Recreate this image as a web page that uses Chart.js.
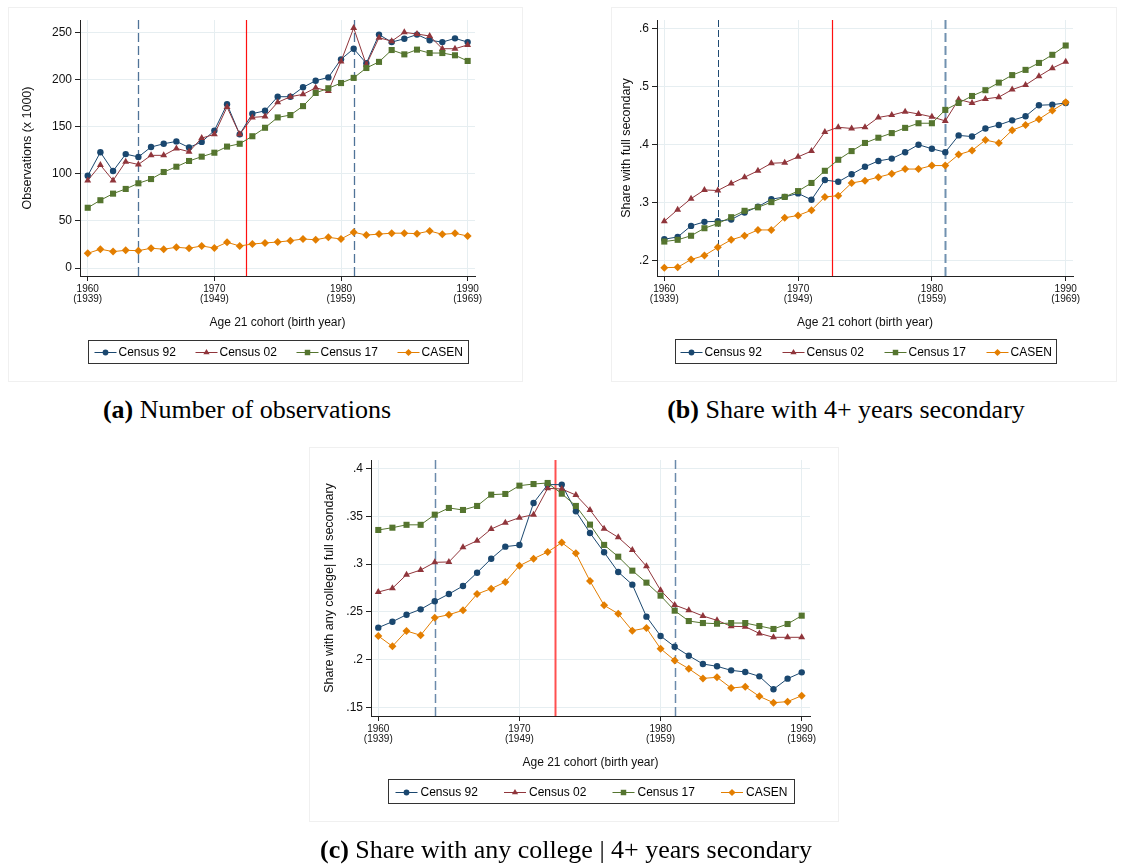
<!DOCTYPE html>
<html>
<head>
<meta charset="utf-8">
<script src="https://cdn.jsdelivr.net/npm/chart.js@4.4.1/dist/chart.umd.min.js"></script>
<style>
  body { margin: 0; background: #fff; width: 1122px; height: 865px; position: relative; overflow: hidden; }
  .panel { position: absolute; }
  .panel canvas { outline: 1px solid #f0f0f0; outline-offset: -1px; }
  .cap { position: absolute; font-family: 'Liberation Serif', 'Times New Roman', serif; font-size: 26px;
         line-height: 26px; white-space: nowrap; transform: translateX(-50%); color: #000; }
</style>
</head>
<body>
<div class="panel" style="left:8px;top:7px"><canvas id="chartA" width="515" height="375"></canvas></div>
<div class="panel" style="left:611px;top:7px"><canvas id="chartB" width="506" height="375"></canvas></div>
<div class="panel" style="left:309px;top:447px"><canvas id="chartC" width="530" height="375"></canvas></div>
<div class="cap" style="left:247px;top:397px"><b>(a)</b> Number of observations</div>
<div class="cap" style="left:846px;top:397px"><b>(b)</b> Share with 4+ years secondary</div>
<div class="cap" style="left:566px;top:837px"><b>(c)</b> Share with any college | 4+ years secondary</div>

<script>
// cohorts (year turning 21)
const cohortYears = [1960, 1961, 1962, 1963, 1964, 1965, 1966, 1967, 1968, 1969,
  1970, 1971, 1972, 1973, 1974, 1975, 1976, 1977, 1978, 1979,
  1980, 1981, 1982, 1983, 1984, 1985, 1986, 1987, 1988, 1989, 1990];
const tickYears = [1960, 1970, 1980, 1990];
const tickBirthYears = [1939, 1949, 1959, 1969];
const seriesNames = ['Census 92', 'Census 02', 'Census 17', 'CASEN'];
const dashedYears = [1964, 1981];
const reformYear = 1972.5;

// (a) observations, thousands
const obsCensus92 = [98, 123, 103, 121, 118, 128.5, 132, 134.5, 128, 134, 146, 174, 142, 164, 167, 182,
  182, 192, 199, 202.5, 221.7, 233, 217.5, 248, 240, 243.6, 248, 242, 240, 244, 240];
const obsCensus02 = [93, 109.4, 93, 113, 110, 119.7, 119.7, 127, 123.6, 138, 142, 171, 142, 160, 161, 176,
  182, 184.5, 191.5, 188, 219.5, 255, 216, 244.7, 241, 250.4, 248.6, 246.5, 233, 233, 237];
const obsCensus17 = [64, 72, 79, 84, 90, 94.5, 102, 107.6, 113.7, 118.3, 122.5, 129, 132, 140, 149, 160,
  162.5, 172, 186, 191, 196.5, 202, 212.5, 219, 231.6, 227, 232, 228.4, 228.4, 226, 220];
const obsCasen = [15.6, 20, 17.4, 18.8, 18.4, 21, 20, 22, 21, 23.4, 21.2, 27.3, 23.4, 25.5, 26.6, 27.6,
  29, 30.8, 30, 32.6, 30.8, 38, 35, 36, 37, 37, 36.5, 39.3, 35.8, 36.8, 34];
const obsTicks = [0, 50, 100, 150, 200, 250];
const obsTickLabels = ['0', '50', '100', '150', '200', '250'];

// (b) share with full secondary
const secCensus92 = [.237, .241, .260, .267, .268, .271, .283, .293, .306, .310, .316, .305, .339, .336, .349, .362,
  .372, .376, .387, .400, .393, .387, .416, .414, .428, .434, .442, .449, .468, .469, .472];
const secCensus02 = [.268, .288, .307, .322, .321, .333, .344, .355, .368, .369, .379, .389, .422, .430, .428, .430,
  .447, .451, .457, .453, .448, .441, .478, .472, .479, .482, .495, .503, .518, .532, .543];
const secCensus17 = [.233, .236, .243, .256, .264, .275, .286, .292, .301, .310, .320, .334, .355, .374, .389, .403,
  .412, .420, .429, .437, .437, .460, .472, .484, .494, .507, .520, .529, .541, .555, .571];
const secCasen = [.188, .1885, .202, .209, .223, .236, .243, .253, .253, .274, .278, .287, .310, .312, .334, .338,
  .344, .350, .358, .358, .364, .364, .383, .390, .408, .403, .425, .434, .444, .459, .473];
const secTicks = [.2, .3, .4, .5, .6];
const secTickLabels = ['.2', '.3', '.4', '.5', '.6'];

// (c) share with any college given full secondary
const colCensus92 = [.2336, .2398, .2471, .2527, .2611, .2687, .2771, .291, .3056, .3182, .3199, .3638, .383, .383,
  .3551, .3325, .3123, .2917, .2785, .2451, .2249, .2137, .2043, .1956, .1932, .189, .1873, .1827, .1692, .1803, .1869];
const colCensus02 = [.2708, .2747, .2889, .2938, .3018, .3022, .3175, .3244, .3366, .3432, .3485, .3516, .3791, .3784,
  .3721, .3565, .337, .3279, .3147, .2976, .2726, .2572, .2517, .2458, .2412, .235, .2346, .2276, .2235, .2235, .2235];
const colCensus17 = [.3356, .338, .341, .341, .3516, .3586, .3565, .3607, .3725, .3732, .3819, .3836, .3847, .3735,
  .3607, .3412, .320, .3077, .2931, .2806, .267, .2513, .2405, .2384, .2377, .2384, .2384, .2353, .2322, .2374, .2461];
const colCasen = [.2249, .2141, .2301, .2256, .244, .2471, .2517, .2687, .2743, .2813, .2983, .3056, .3126, .3224,
  .3112, .2823, .2569, .2482, .2304, .2332, .2116, .1994, .1907, .1806, .1817, .1705, .1719, .1618, .1552, .1563, .1625];
const colTicks = [.15, .2, .25, .3, .35, .4];
const colTickLabels = ['.15', '.2', '.25', '.3', '.35', '.4'];

// styles
const seriesColors = ['#1a476f', '#90353b', '#55752f', '#e37e00'];
const seriesMarkers = ['circle', 'triangle', 'rect', 'rectRot'];
const markerRadius = [3.2, 4, 4.3, 4];
const gridColor = '#e6eef1';
const axisColor = '#222';
const sansFont = "'Liberation Sans', Arial, sans-serif";

const refLinesPlugin = {
  id: 'refLines',
  beforeDatasetsDraw(chart, args, opts) {
    const { ctx, chartArea: a, scales: { x } } = chart;
    ctx.save();
    opts.lines.forEach(l => {
      const px = Math.round(x.getPixelForValue(l.value)) + 0.5;
      ctx.strokeStyle = l.color;
      ctx.lineWidth = l.width;
      ctx.setLineDash(l.dash || []);
      ctx.beginPath();
      ctx.moveTo(px, a.top);
      ctx.lineTo(px, a.bottom);
      ctx.stroke();
    });
    ctx.restore();
  }
};

// boxed legend, line with marker in the middle
const stataLegendPlugin = {
  id: 'stataLegend',
  afterDraw(chart, args, o) {
    const { ctx, chartArea: a } = chart;
    const sets = chart.data.datasets;
    ctx.save();
    ctx.font = '12px ' + sansFont;
    const lastW = ctx.measureText(sets[sets.length - 1].label).width;
    const w = Math.round(o.pad * 2 + (sets.length - 1) * o.spacing + o.lineLen + o.gap + lastW);
    const left = Math.round((a.left + a.right) / 2 - w / 2) + 0.5;
    const top = Math.round(a.bottom + o.offset) + 0.5;
    ctx.strokeStyle = '#333';
    ctx.lineWidth = 1;
    ctx.strokeRect(left, top, w, o.height);
    const cy = Math.round(top + o.height / 2);
    sets.forEach((ds, i) => {
      const x0 = left + o.pad + i * o.spacing;
      ctx.strokeStyle = ds.borderColor;
      ctx.fillStyle = ds.backgroundColor;
      ctx.lineWidth = 1;
      ctx.beginPath();
      ctx.moveTo(x0, cy + 0.5);
      ctx.lineTo(x0 + o.lineLen, cy + 0.5);
      ctx.stroke();
      Chart.helpers.drawPoint(ctx, { pointStyle: ds.pointStyle, radius: ds.pointRadius * 0.9, rotation: 0, borderWidth: 0 },
        x0 + o.lineLen / 2, cy + 0.5);
      ctx.fillStyle = '#000';
      ctx.textBaseline = 'middle';
      ctx.textAlign = 'left';
      ctx.fillText(ds.label, x0 + o.lineLen + o.gap, cy + 1);
    });
    ctx.restore();
  }
};

function makeDatasets(lists) {
  return lists.map((vals, i) => ({
    label: seriesNames[i],
    data: cohortYears.map((yr, k) => ({ x: yr, y: vals[k] })),
    borderColor: seriesColors[i],
    backgroundColor: seriesColors[i],
    borderWidth: 1,
    pointStyle: seriesMarkers[i],
    pointRadius: markerRadius[i],
    pointBorderWidth: 0,
    order: 4 - i,
    tension: 0
  }));
}

function makePanel(id, cfg) {
  return new Chart(document.getElementById(id), {
    type: 'line',
    data: { datasets: makeDatasets(cfg.series) },
    options: {
      responsive: false,
      animation: false,
      layout: { padding: cfg.padding },
      plugins: {
        legend: { display: false },
        tooltip: { enabled: false },
        refLines: { lines: cfg.lines },
        stataLegend: cfg.legend
      },
      scales: {
        x: {
          type: 'linear',
          min: cfg.xMin,
          max: cfg.xMax,
          afterBuildTicks: s => { s.ticks = tickYears.map(v => ({ value: v })); },
          afterFit: s => { s.height = 60; },
          grid: { color: gridColor, tickLength: 5, tickColor: axisColor, tickWidth: 1 },
          border: { color: axisColor, width: 1 },
          ticks: {
            color: '#111', padding: 3, maxRotation: 0, autoSkip: false,
            font: { family: sansFont, size: 10, lineHeight: 1 },
            callback: v => {
              const i = tickYears.indexOf(v);
              return [String(v), '(' + tickBirthYears[i] + ')'];
            }
          },
          title: {
            display: true, text: 'Age 21 cohort (birth year)', color: '#111',
            font: { family: sansFont, size: 12 }, padding: { top: 0, bottom: 6 }
          }
        },
        y: {
          min: cfg.yMin,
          max: cfg.yMax,
          afterBuildTicks: s => { s.ticks = cfg.yTicks.map(v => ({ value: v })); },
          afterFit: s => { s.width = cfg.yWidth; },
          grid: { color: gridColor, tickLength: 5, tickColor: axisColor, tickWidth: 1 },
          border: { color: axisColor, width: 1 },
          ticks: {
            color: '#111', padding: 3,
            font: { family: sansFont, size: 12 },
            callback: v => cfg.yTickLabels[cfg.yTicks.findIndex(t => Math.abs(t - v) < 1e-9)]
          },
          title: {
            display: true, text: cfg.yTitle, color: '#111',
            font: { family: sansFont, size: 12.5, lineHeight: 1.2 }, padding: { top: cfg.yTitlePad, bottom: 0 }
          }
        }
      }
    },
    plugins: [refLinesPlugin, stataLegendPlugin]
  });
}

makePanel('chartA', {
  series: [obsCensus92, obsCensus02, obsCensus17, obsCasen],
  padding: { left: 0, top: 13, right: 48, bottom: 46 },
  yWidth: 72, yTitlePad: 12.5,
  xMin: 1959.39, xMax: 1990.58,
  yMin: -8.5, yMax: 263.5,
  yTicks: obsTicks, yTickLabels: obsTickLabels,
  yTitle: 'Observations (x 1000)',
  lines: [
    { value: dashedYears[0], color: '#4f7398', width: 1.3, dash: [9, 4] },
    { value: reformYear, color: '#ff1010', width: 1.2 },
    { value: dashedYears[1], color: '#4f7398', width: 1.3, dash: [9, 4] }
  ],
  legend: { pad: 6, spacing: 101, lineLen: 22, gap: 2, offset: 64, height: 23 }
});

makePanel('chartB', {
  series: [secCensus92, secCensus02, secCensus17, secCasen],
  padding: { left: 0, top: 13, right: 44, bottom: 46 },
  yWidth: 46, yTitlePad: 8.5,
  xMin: 1959.455, xMax: 1990.546,
  yMin: .1736, yMax: .615,
  yTicks: secTicks, yTickLabels: secTickLabels,
  yTitle: 'Share with full secondary',
  lines: [
    { value: dashedYears[0], color: '#1f4a72', width: 1, dash: [7, 3] },
    { value: reformYear, color: '#ff1010', width: 1.2 },
    { value: dashedYears[1], color: '#7191b0', width: 2, dash: [9, 4] }
  ],
  legend: { pad: 5, spacing: 102, lineLen: 22, gap: 2, offset: 63, height: 24 }
});

makePanel('chartC', {
  series: [colCensus92, colCensus02, colCensus17, colCasen],
  padding: { left: 0, top: 13, right: 29, bottom: 46 },
  yWidth: 62, yTitlePad: 13.5,
  xMin: 1959.483, xMax: 1990.588,
  yMin: .1413, yMax: .4087,
  yTicks: colTicks, yTickLabels: colTickLabels,
  yTitle: 'Share with any college| full secondary',
  lines: [
    { value: dashedYears[0], color: '#6b8aab', width: 1.5, dash: [9, 4] },
    { value: reformYear, color: '#ff5050', width: 2 },
    { value: dashedYears[1], color: '#6b8aab', width: 1.5, dash: [9, 4] }
  ],
  legend: { pad: 7, spacing: 108.5, lineLen: 22, gap: 3, offset: 63, height: 24 }
});
</script>
</body>
</html>
